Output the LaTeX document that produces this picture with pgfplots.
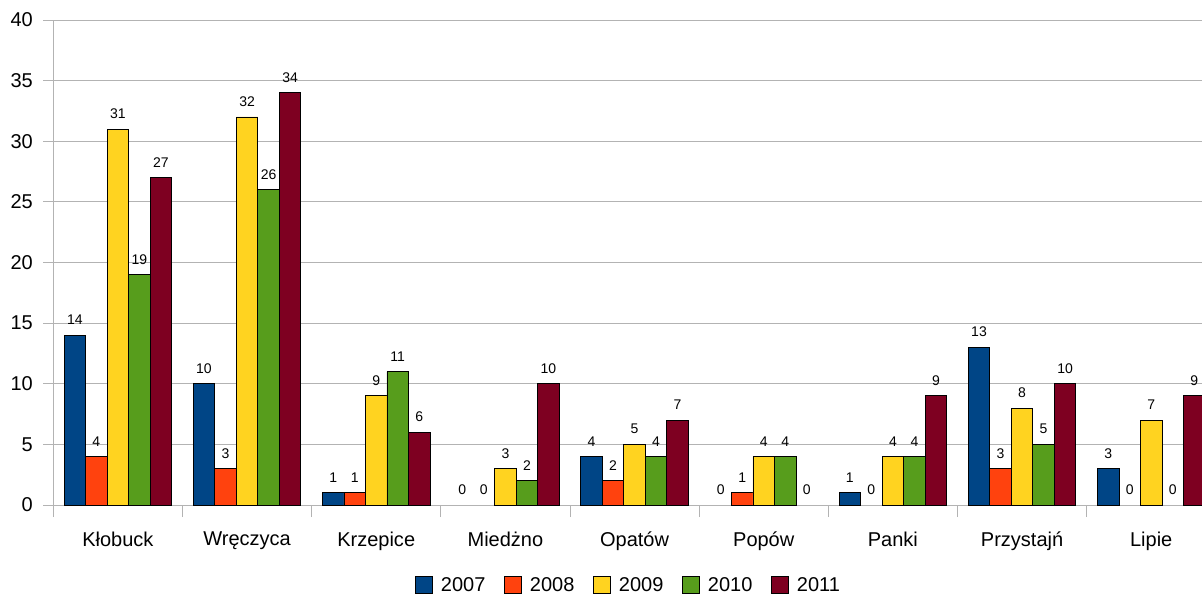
\documentclass[border=0pt]{standalone}
\usepackage{pgfplots}
\pgfplotsset{compat=1.18}
\usepackage{fontspec}
\setmainfont{Liberation Sans}
\definecolor{c07}{HTML}{004586}
\definecolor{c08}{HTML}{FF420E}
\definecolor{c09}{HTML}{FFD320}
\definecolor{c10}{HTML}{579D1C}
\definecolor{c11}{HTML}{7E0021}
\definecolor{gridc}{HTML}{B3B3B3}
\pgfplotsset{sqlegend/.style={legend image code/.code={\draw[##1] (0pt,-8pt) rectangle (16.7pt,8.3pt);}},
  zerolab/.style={draw=none, fill=none, forget plot}}
\begin{document}
\begin{tikzpicture}
\begin{axis}[
  scale only axis, width=1148.7pt, height=485pt,
  ybar=0pt, bar width=0.16667,
  xmin=-0.5, xmax=8.393, ymin=0, ymax=40,
  ytick={0,5,...,40},
  xtick={0,...,8},
  xticklabels={Kłobuck, Wręczyca, Krzepice, Miedżno, Opatów, Popów, Panki, Przystajń, Lipie},
  minor xtick={-0.5,0.5,...,8.5},
  ymajorgrids, major grid style={gridc, line width=0.8pt},
  axis x line*=bottom, axis y line*=left,
  axis line style={gridc, line width=0.8pt, -},
  tick align=outside,
  major x tick style={draw=none},
  minor x tick style={gridc, line width=0.8pt},
  major y tick style={gridc, line width=0.8pt},
  major tick length=10pt, minor tick length=12pt,
  tick label style={font=\fontsize{20}{24}\selectfont},
  xticklabel style={yshift=-13pt},
  yticklabel style={xshift=-7pt},
  /pgf/number format/assume math mode=true,
  nodes near coords,
  nodes near coords style={font=\fontsize{14}{16}\selectfont, inner sep=0pt, anchor=south, yshift=10pt, black},
  legend columns=-1,
  legend style={at={(axis description cs:0.5,-0.165)}, anchor=center, draw=none, fill=none,
    font=\fontsize{20}{24}\selectfont,
    /tikz/every odd column/.append style={column sep=8pt},
    /tikz/every even column/.append style={column sep=19pt},
    nodes={inner sep=0pt}},
]
% 2007
\addplot[fill=c07, draw=black, line width=0.8pt, sqlegend, bar shift=-0.33333] coordinates {(0,14) (1,10) (2,1) (4,4) (6,1) (7,13) (8,3)};
\addlegendentry{2007}
\addplot[zerolab, bar shift=-0.33333] coordinates {(3,0) (5,0)};
% 2008
\addplot[fill=c08, draw=black, line width=0.8pt, sqlegend, bar shift=-0.16667] coordinates {(0,4) (1,3) (2,1) (4,2) (5,1) (7,3)};
\addlegendentry{2008}
\addplot[zerolab, bar shift=-0.16667] coordinates {(3,0) (6,0) (8,0)};
% 2009
\addplot[fill=c09, draw=black, line width=0.8pt, sqlegend, bar shift=0] coordinates {(0,31) (1,32) (2,9) (3,3) (4,5) (5,4) (6,4) (7,8) (8,7)};
\addlegendentry{2009}
% 2010
\addplot[fill=c10, draw=black, line width=0.8pt, sqlegend, bar shift=0.16667] coordinates {(0,19) (1,26) (2,11) (3,2) (4,4) (5,4) (6,4) (7,5)};
\addlegendentry{2010}
\addplot[zerolab, bar shift=0.16667] coordinates {(8,0)};
% 2011
\addplot[fill=c11, draw=black, line width=0.8pt, sqlegend, bar shift=0.33333] coordinates {(0,27) (1,34) (2,6) (3,10) (4,7) (6,9) (7,10) (8,9)};
\addlegendentry{2011}
\addplot[zerolab, bar shift=0.33333] coordinates {(5,0)};
\coordinate (bl) at (rel axis cs:0,0);
\coordinate (tr) at (rel axis cs:1,1);
\end{axis}
\pgfresetboundingbox
\path[use as bounding box] ([xshift=-53.3pt,yshift=-91pt]bl) rectangle ([yshift=20pt]tr);
\end{tikzpicture}
\end{document}
